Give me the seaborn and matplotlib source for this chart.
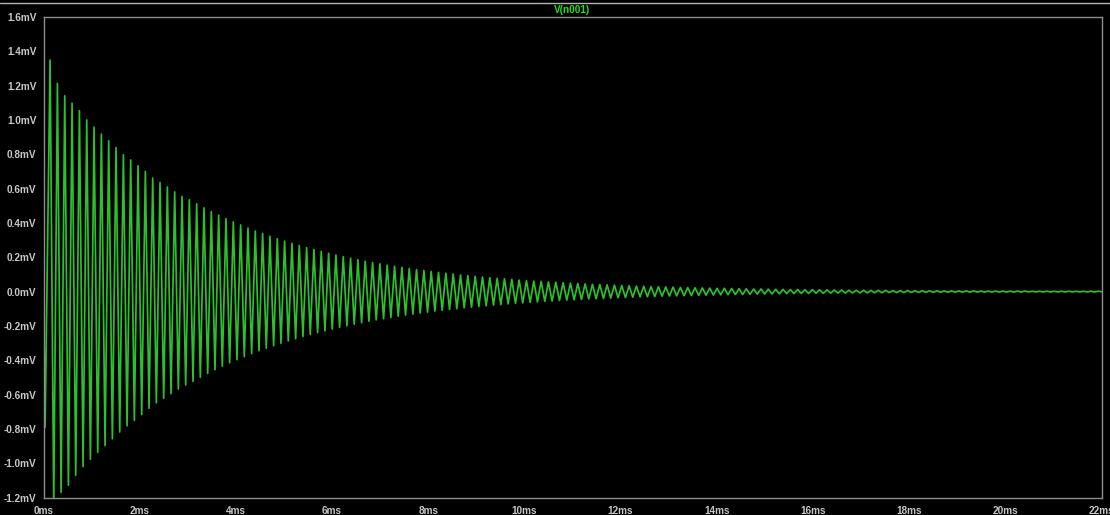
import numpy as np
import pandas as pd
import matplotlib
matplotlib.use("Agg")
import matplotlib.pyplot as plt
from matplotlib.lines import Line2D
import seaborn as sns

# ---- waveform data: V(n001), ringing of the tank after the step ----
# opening of the trace (time in ms, voltage in mV)
lead_t_ms = [0.0, 0.033]
lead_mv = [0.0, -0.79]

# timing of the ringing
first_peak_ms = 0.137
period_ms = 0.1524

# successive positive peaks (mV)
peak_mv = [
    1.349, 1.213, 1.141, 1.097, 1.054, 1.000, 0.958, 0.917, 0.878, 0.839,
    0.797, 0.767, 0.733, 0.700, 0.661, 0.635, 0.609, 0.581, 0.554, 0.535,
    0.511, 0.488, 0.466, 0.445, 0.425, 0.406, 0.388, 0.370, 0.353, 0.338,
    0.322, 0.308, 0.294, 0.281, 0.268, 0.256, 0.245, 0.234, 0.223, 0.213,
    0.203, 0.194, 0.186, 0.177, 0.169, 0.162, 0.154, 0.147, 0.141, 0.134,
    0.128, 0.123, 0.117, 0.112, 0.107, 0.102, 0.097, 0.093, 0.089, 0.085,
    0.081, 0.077, 0.074, 0.071, 0.067, 0.064, 0.061, 0.059, 0.056, 0.054,
    0.051, 0.049, 0.047, 0.045, 0.042, 0.041, 0.039, 0.037, 0.035, 0.034,
    0.032, 0.031, 0.029, 0.028, 0.027, 0.026, 0.024, 0.023, 0.022, 0.021,
    0.020, 0.019, 0.019, 0.018, 0.017, 0.016, 0.015, 0.015, 0.014, 0.013,
    0.013, 0.012, 0.012, 0.011, 0.011, 0.010, 0.010, 0.009, 0.009, 0.008,
    0.008, 0.008, 0.007, 0.007, 0.007, 0.006, 0.006, 0.006, 0.005, 0.005,
    0.005, 0.005, 0.004, 0.004, 0.004, 0.004, 0.004, 0.003, 0.003, 0.003,
    0.003, 0.003, 0.003, 0.003, 0.002, 0.002, 0.002, 0.002, 0.002, 0.002,
    0.002, 0.002, 0.002, 0.002,
]

# successive negative troughs (mV), each half a period after its peak
trough_mv = [
    -1.240, -1.170, -1.128, -1.070, -1.020, -0.977, -0.937, -0.897, -0.858, -0.818,
    -0.782, -0.750, -0.716, -0.680, -0.648, -0.622, -0.595, -0.567, -0.544, -0.523,
    -0.499, -0.477, -0.455, -0.435, -0.415, -0.397, -0.379, -0.361, -0.345, -0.330,
    -0.315, -0.301, -0.287, -0.275, -0.262, -0.250, -0.239, -0.229, -0.218, -0.208,
    -0.199, -0.190, -0.181, -0.173, -0.165, -0.158, -0.151, -0.144, -0.137, -0.131,
    -0.125, -0.120, -0.114, -0.109, -0.104, -0.100, -0.095, -0.091, -0.087, -0.083,
    -0.079, -0.076, -0.072, -0.069, -0.066, -0.063, -0.060, -0.057, -0.055, -0.052,
    -0.050, -0.048, -0.046, -0.043, -0.042, -0.040, -0.038, -0.036, -0.035, -0.033,
    -0.031, -0.030, -0.029, -0.027, -0.026, -0.025, -0.024, -0.023, -0.022, -0.021,
    -0.020, -0.019, -0.018, -0.017, -0.017, -0.016, -0.015, -0.014, -0.014, -0.013,
    -0.012, -0.012, -0.011, -0.011, -0.010, -0.010, -0.009, -0.009, -0.009, -0.008,
    -0.008, -0.008, -0.007, -0.007, -0.006, -0.006, -0.006, -0.005, -0.005, -0.005,
    -0.005, -0.004, -0.004, -0.004, -0.004, -0.004, -0.003, -0.003, -0.003, -0.003,
    -0.003, -0.003, -0.003, -0.002, -0.002, -0.002, -0.002, -0.002, -0.002, -0.002,
    -0.002, -0.002, -0.002, -0.001,
]

# axis ticks
x_ticks_ms = list(range(0, 23, 2))
x_tick_labels = [f"{v}ms" for v in x_ticks_ms]
y_ticks_mv = [round(-1.2 + 0.2 * i, 1) for i in range(15)]
y_tick_labels = [f"{v:.1f}mV" for v in y_ticks_mv]

trace_name = "V(n001)"

# ---- assemble the trace ----
k = np.arange(len(peak_mv))
peak_t = first_peak_ms + period_ms * k
trough_t = peak_t + period_ms / 2.0
df = pd.DataFrame({
    "t_ms": np.concatenate([lead_t_ms, peak_t, trough_t]),
    "v_mV": np.concatenate([lead_mv, peak_mv, trough_mv]),
}).sort_values("t_ms").reset_index(drop=True)

# ---- styling ----
sns.set_theme(style="dark")
bg = "#000000"
fg = "#c8c8c8"
frame = "#8c8c8c"
trace_green = "#2cc02c"
plt.rcParams["font.family"] = ["Liberation Sans", "DejaVu Sans"]

fig = plt.figure(figsize=(11.10, 5.15), dpi=100, facecolor=bg)
ax = fig.add_axes([43.5 / 1110, 17.5 / 515, 1058 / 1110, 480.5 / 515])
ax.set_facecolor(bg)

sns.lineplot(data=df, x="t_ms", y="v_mV", estimator=None, sort=False,
             color=trace_green, linewidth=1.25, ax=ax)

ax.set_xlim(0, 22)
ax.set_ylim(-1.2, 1.6)
ax.set_xticks(x_ticks_ms)
ax.set_xticklabels(x_tick_labels)
ax.set_yticks(y_ticks_mv)
ax.set_yticklabels(y_tick_labels)
ax.set_xlabel("")
ax.set_ylabel("")
ax.grid(False)

for side in ["left", "right", "top", "bottom"]:
    ax.spines[side].set_visible(True)
    ax.spines[side].set_color(frame)
    ax.spines[side].set_linewidth(1.0)

ax.tick_params(axis="both", which="major", direction="out", color=frame,
               length=4, width=1.0, labelcolor=fg, labelsize=7.2)
ax.tick_params(axis="x", pad=2.0)
ax.tick_params(axis="y", pad=1.0)
for lab in ax.get_xticklabels() + ax.get_yticklabels():
    lab.set_fontweight("bold")

# trace name above the plot
fig.text(572.5 / 1110, 1 - 10 / 515, trace_name, color="#22e022",
         fontsize=7.2, fontweight="bold", ha="center", va="center")

# thin frame line along the top of the window
fig.add_artist(Line2D([0, 1], [1 - 2.5 / 515, 1 - 2.5 / 515],
                      transform=fig.transFigure, color="#b4b4b4", linewidth=1.0))

fig.savefig("out.png", dpi=100, facecolor=bg)
